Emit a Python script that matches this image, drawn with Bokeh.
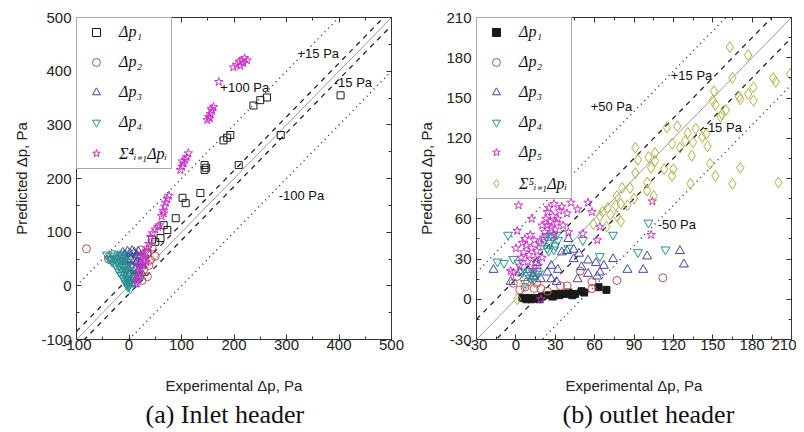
from bokeh.plotting import figure
from bokeh.models import (LinearAxis, Range1d, SingleIntervalTicker, Title,
                          CustomJSTickFormatter)
from bokeh.layouts import row
from bokeh.embed import file_html
from bokeh.resources import INLINE
from bokeh.core.properties import value

# ---------------- (a) Inlet header ----------------
a_dp1_x = [403, 289, 237, 250, 263, 209, 193, 180, 187, 144, 144, 147, 136, 102, 108, 89, 73, 66, 60, 50, 44, 35, 25]
a_dp1_y = [355, 281, 336, 346, 351, 225, 281, 271, 276, 225, 216, 220, 173, 164, 154, 126, 104, 113, 89, 82, 86, 62, 45]

a_dp2_x = [-81, -39, 22, 41, 28, 44, 9, 15, 35, 30, 50, 18, 38, 5, 25, 12, 35]
a_dp2_y = [69, 50, 67, 48, 30, 72, 35, 55, 60, 45, 55, 20, 38, 50, 10, 15, 17]

a_dp3_x = [-18, -12, -8, -3, 2, 6, 10, 14, 18, 22, -10, -4, 3, 9, 15, 20, 25, -2, 5, 12, 18, 24, 0, 8, 14, 20, 4, 10]
a_dp3_y = [55, 62, 58, 64, 60, 65, 62, 58, 63, 55, 45, 48, 50, 47, 45, 42, 38, 35, 33, 30, 28, 24, 20, 15, 12, 18, 5, 3]

a_dp4_x = [-42, -36, -30, -25, -20, -15, -10, -5, -32, -26, -20, -14, -8, -2, -22, -16, -10, -4, 2,
           -14, -8, -2, 3, -8, -2, 3, 0, 3, -4, 6, -12, -28, -18, -6,
           -38, -34, -24, -12, -6, 0, -18, -10, -4, -6, 0, -2]
a_dp4_y = [58, 55, 60, 52, 58, 55, 60, 57, 45, 40, 45, 42, 48, 45, 32, 30, 35, 30, 35,
           20, 22, 18, 22, 10, 8, 10, 0, -5, 2, 15, 48, 50, 38, 40,
           50, 48, 46, 28, 26, 26, 25, 14, 14, 5, 4, -2]

a_sum_x = [199, 205, 210, 215, 220, 225, 212, 218, 171,
           149, 152, 155, 158, 161, 154, 157,
           98, 101, 104, 107, 110, 113, 102,
           62, 65, 68, 70, 73, 76, 66,
           41, 45, 50, 55, 58,
           38, 35, 32, 30, 28, 25, 22, 20, 18, 16, 15, 26, 33, 20]
a_sum_y = [407, 412, 418, 420, 424, 420, 410, 415, 380,
           309, 315, 320, 326, 333, 312, 330,
           216, 222, 228, 235, 240, 247, 232,
           130, 140, 148, 155, 162, 168, 135,
           91, 98, 105, 110, 113,
           78, 70, 62, 55, 48, 40, 32, 25, 18, 10, 5, 60, 45, 40]

a_ann_x = [321, 174, 390, 285]
a_ann_y = [433, 370, 379, 169]
a_ann_t = ["+15 Pa", "+100 Pa", "-15 Pa", "-100 Pa"]
a_dash_off = [-15, 15]
a_dot_off = [-100, 100]

# ---------------- (b) outlet header ----------------
b_dp1_x = [5, 8, 10, 12, 15, 18, 20, 25, 28, 30, 33, 35, 38, 40, 43, 45, 50, 52, 63, 69]
b_dp1_y = [1, 0, 1, 0, 1, 0, 2, 3, 2, 4, 3, 4, 4, 5, 3, 4, 6, 5, 9, 7]

b_dp2_x = [112, 77, 58, 58, 49, 34, 39, 24, 9, 7, 14, 19, 3, -2, 1, 16]
b_dp2_y = [16, 14, 13, 8, 21, 10, 10, 6, 13, 9, 8, 8, 7, 12, 17, 12]

b_dp3_x = [128, 125, 100, 97, 85, 74, 67, 61, 55, 50, 44, 44, 39, 35, 32, 27, 24, 16, 9, 3, -17,
           40, 48, 64, 62, 55, 47, 31, 27, 19, 13, -4]
b_dp3_y = [26, 36, 32, 22, 22, 30, 25, 27, 29, 24, 30, 37, 36, 35, 22, 25, 20, 27, 22, 20, 22,
           45, 34, 20, 17, 19, 15, 13, 15, 15, 17, 13]

b_dp4_x = [20, 22, 24, 26, 28, 30, 32, 25, 27, 23, 29, 31,
           9, 11, 13, 15, 17, 10, 14, 12, 16,
           114, 93, 101, 74, 64, 51, -9, -14, -6, 2, 7, -2, 5, 40]
b_dp4_y = [40, 44, 38, 42, 46, 40, 44, 36, 48, 47, 37, 48,
           18, 16, 20, 17, 19, 21, 15, 18, 21,
           37, 35, 57, 48, 32, 44, 27, 28, 48, 27, 12, 30, 20, 38]

b_dp5_x = [2, 1, 11, 12, 24, 29, 35, 47, 58, 62, 64, 51, 104, 103, 39, -4, 19,
           4, 6, 8, 10, 12, 14, 16, 18, 20, 21, 5, 9, 15, 7, 17, 13,
           22, 24, 26, 28, 30, 32, 33, 25, 27, 23, 29, 31,
           0, 3, -2, 20, 36, 40, 42, 55]
b_dp5_y = [70, 51, 48, 60, 65, 71, 69, 67, 65, 44, 54, 49, 73, 48, 64, 21, 0,
           31, 35, 40, 33, 38, 44, 36, 42, 31, 46, 42, 28, 30, 45, 25, 22,
           50, 55, 58, 62, 52, 60, 66, 68, 53, 60, 48, 57,
           38, 25, 20, 55, 55, 50, 72, 72]

b_sum_x = [163, 177, 165, 151, 150, 152, 160, 157, 156, 171, 170, 177, 181, 181, 196, 198, 209,
           200, 171, 165, 152, 148, 146, 142, 145, 135, 131, 137, 134, 129, 125, 119, 115, 123,
           120, 133, 119, 113, 103, 106, 101, 93, 91, 106, 91, 100, 100, 105, 87, 81, 77,
           59, 64, 72, 76, 80, 77, 69, 80, 85, 90, 66, 70, 1]
b_sum_y = [188, 182, 165, 155, 148, 145, 141, 138, 136, 149, 151, 153, 148, 158, 165, 162, 168,
           87, 98, 86, 92, 101, 114, 121, 123, 117, 124, 127, 107, 118, 113, 116, 128, 129,
           97, 86, 92, 97, 98, 103, 106, 104, 113, 109, 94, 87, 81, 77, 83, 83, 77,
           56, 62, 63, 70, 71, 62, 54, 58, 70, 75, 65, 68, 0]

b_ann_x = [118, 57, 143, 108]
b_ann_y = [167, 144, 128, 56]
b_ann_t = ["+15 Pa", "+50 Pa", "-15 Pa", "-50 Pa"]
b_dash_off = [-15, 15]
b_dot_off = [-50, 50]

BLACK = "#1a1a1a"
RED = "#c0504d"
BLUE = "#4444a4"
TEAL = "#2a8f8f"
MAG = "#cc33cc"
OLIVE = "#b0b048"
SANS = "Liberation Sans"
SERIF = "Liberation Serif"

SUB = {1: "\u2081", 2: "\u2082", 3: "\u2083", 4: "\u2084", 5: "\u2085"}
SUP = {4: "\u2074", 5: "\u2075"}


def dp(i):
    return "\u0394p" + SUB[i]


def sum_label(n):
    return "\u03a3" + SUP[n] + "\u1d62\u208c\u2081\u0394p\u1d62"


def make_fig(width, lo, hi, step, bl, br, caption, cap_offset):
    p = figure(width=width, height=430, x_range=Range1d(lo, hi), y_range=Range1d(lo, hi),
               output_backend="svg", toolbar_location=None,
               min_border_left=bl, min_border_right=br, min_border_top=17, min_border_bottom=91)
    p.grid.visible = False
    p.outline_line_color = "#333333"
    p.background_fill_color = "white"
    fmt = CustomJSTickFormatter(code="return tick.toFixed(0)")
    for ax in (p.xaxis[0], p.yaxis[0]):
        ax.ticker = SingleIntervalTicker(interval=step, num_minor_ticks=2)
        ax.formatter = fmt
        ax.major_tick_in = 5
        ax.major_tick_out = 0
        ax.minor_tick_in = 3
        ax.minor_tick_out = 0
        ax.axis_line_color = "#333333"
        ax.major_tick_line_color = "#333333"
        ax.minor_tick_line_color = "#333333"
        ax.major_label_text_font = SANS
        ax.major_label_text_font_size = "15px"
        ax.major_label_text_color = "#222222"
        ax.axis_label_text_font = SANS
        ax.axis_label_text_font_size = "15px"
        ax.axis_label_text_font_style = "normal"
        ax.axis_label_text_color = "#222222"
    p.xaxis[0].major_label_standoff = 0
    p.yaxis[0].major_label_standoff = 5
    p.xaxis[0].axis_label = "Experimental \u0394p, Pa"
    p.yaxis[0].axis_label = "Predicted \u0394p, Pa"
    p.xaxis[0].axis_label_standoff = 24
    p.yaxis[0].axis_label_standoff = 8
    empty = CustomJSTickFormatter(code="return ''")
    for loc in ("above", "right"):
        ax = LinearAxis(ticker=SingleIntervalTicker(interval=step, num_minor_ticks=2),
                        formatter=empty, major_tick_in=5, major_tick_out=0,
                        minor_tick_in=3, minor_tick_out=0, major_label_standoff=0,
                        major_label_text_font_size="1px",
                        axis_line_color="#333333", major_tick_line_color="#333333",
                        minor_tick_line_color="#333333")
        p.add_layout(ax, loc)
    p.add_layout(Title(text=caption, align="left", text_font=SERIF,
                       text_font_size="26px", text_font_style="normal",
                       text_color="#111111", standoff=3, offset=cap_offset), "below")
    return p


def ref_lines(p, lo, hi, dash_off, dot_off):
    p.line([lo, hi], [lo, hi], line_color="#9a9a9a", line_width=1)
    for o in dash_off:
        p.line([lo, hi], [lo + o, hi + o], line_color="#222222", line_width=1.3, line_dash="5 5")
    for o in dot_off:
        p.line([lo, hi], [lo + o, hi + o], line_color="#333333", line_width=1.5, line_dash="1 4")


def annotate(p, xs, ys, ts):
    p.text(x=xs, y=ys, text=ts, text_font=value(SANS), text_font_size="13px",
           text_color="#111111", text_baseline="middle", text_align="left")


def style_legend(p):
    lg = p.legend[0]
    lg.location = "top_left"
    lg.margin = 0
    lg.padding = 4
    lg.spacing = 10
    lg.glyph_height = 20
    lg.glyph_width = 30
    lg.label_height = 20
    lg.label_standoff = 8
    lg.label_text_font = SERIF
    lg.label_text_font_style = "italic"
    lg.label_text_font_size = "16px"
    lg.label_text_color = "#111111"
    lg.border_line_color = "#555555"
    lg.border_line_width = 1
    lg.background_fill_alpha = 1.0


# ---- panel (a)
pa = make_fig(408, -100, 500, 100, 76, 17, "(a) Inlet header", 69)
ref_lines(pa, -100, 500, a_dash_off, a_dot_off)
pa.scatter(a_dp1_x, a_dp1_y, marker="square", size=7, fill_color=None, line_color=BLACK,
           line_width=1, legend_label=dp(1))
pa.scatter(a_dp2_x, a_dp2_y, marker="circle", size=8, fill_color=None, line_color=RED,
           line_width=1, legend_label=dp(2))
pa.scatter(a_dp3_x, a_dp3_y, marker="triangle", size=9, fill_color=None, line_color=BLUE,
           line_width=1, legend_label=dp(3))
pa.scatter(a_dp4_x, a_dp4_y, marker="inverted_triangle", size=9, fill_color=None, line_color=TEAL,
           line_width=1, legend_label=dp(4))
pa.scatter(a_sum_x, a_sum_y, marker="star", size=9, fill_color=None, line_color=MAG,
           line_width=1, legend_label=sum_label(4))
annotate(pa, a_ann_x, a_ann_y, a_ann_t)
style_legend(pa)

# ---- panel (b)
pb = make_fig(388, -30, 210, 30, 68, 5, "(b) outlet header", 86)
ref_lines(pb, -30, 210, b_dash_off, b_dot_off)
pb.scatter(b_dp1_x, b_dp1_y, marker="square", size=7, fill_color=BLACK, line_color=BLACK,
           line_width=1, legend_label=dp(1))
pb.scatter(b_dp2_x, b_dp2_y, marker="circle", size=8, fill_color=None, line_color=RED,
           line_width=1, legend_label=dp(2))
pb.scatter(b_dp3_x, b_dp3_y, marker="triangle", size=9, fill_color=None, line_color=BLUE,
           line_width=1, legend_label=dp(3))
pb.scatter(b_dp4_x, b_dp4_y, marker="inverted_triangle", size=9, fill_color=None, line_color=TEAL,
           line_width=1, legend_label=dp(4))
pb.scatter(b_dp5_x, b_dp5_y, marker="star", size=9, fill_color=None, line_color=MAG,
           line_width=1, legend_label=dp(5))
pb.scatter(b_sum_x, b_sum_y, marker="diamond", size=11, fill_color=None, line_color=OLIVE,
           line_width=1, legend_label=sum_label(5))
annotate(pb, b_ann_x, b_ann_y, b_ann_t)
style_legend(pb)

layout = row(pa, pb)
open("out.html", "w").write(file_html(layout, INLINE))
